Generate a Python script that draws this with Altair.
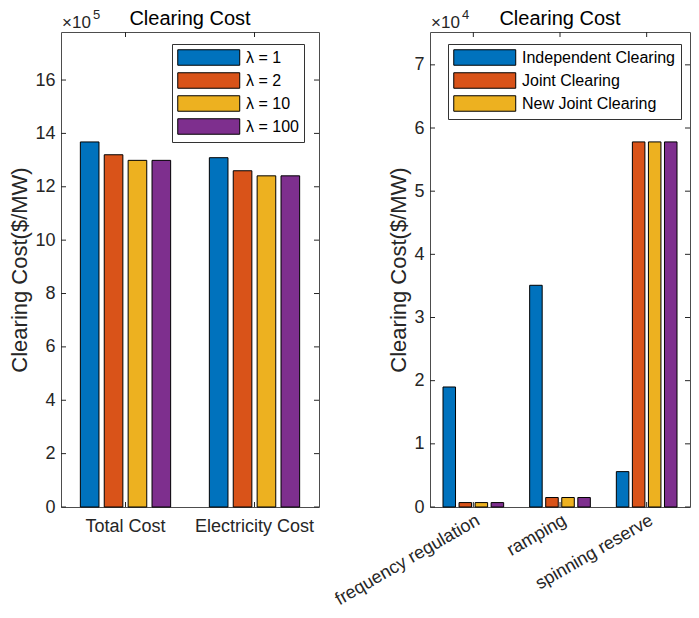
import altair as alt
import pandas as pd

FONT = "Liberation Sans"
AX = "#262626"

# ---------------- data: left panel ----------------
left_categories = ["Total Cost", "Electricity Cost"]
left_series = ["λ = 1", "λ = 2", "λ = 10", "λ = 100"]
left_lambda1 = [13.68, 13.09]
left_lambda2 = [13.20, 12.60]
left_lambda10 = [12.99, 12.41]
left_lambda100 = [12.99, 12.41]
left_yticks = [0, 2, 4, 6, 8, 10, 12, 14, 16]
left_ymax = 17.8
left_exponent = "5"

# ---------------- data: right panel ----------------
right_categories = ["frequency regulation", "ramping", "spinning reserve"]
right_series = ["Independent Clearing", "Joint Clearing", "New Joint Clearing", "Series 4"]
right_independent = [1.90, 3.51, 0.56]
right_joint = [0.07, 0.15, 5.78]
right_new_joint = [0.07, 0.15, 5.78]
right_series4 = [0.07, 0.15, 5.78]
right_yticks = [0, 1, 2, 3, 4, 5, 6, 7]
right_ymax = 7.52
right_exponent = "4"

colors = ["#0072BD", "#D95319", "#EDB120", "#7E2F8E"]
panel_title = "Clearing Cost"


def make_df(cats, series, cols):
    rows = []
    for s, vals in zip(series, cols):
        for c, v in zip(cats, vals):
            rows.append({"category": c, "series": s, "value": v})
    return pd.DataFrame(rows)


def panel(cats, series, cols, ticks, ymax, exponent, legend_values,
          W, H, legend_x, legend_y, label_angle, label_align, label_baseline,
          label_pad, label_offset, label_extra):
    df = make_df(cats, series, cols)
    yscale = alt.Scale(domain=[0, ymax], nice=False, zero=True)
    xscale = alt.Scale(domain=cats, paddingInner=0.3, paddingOuter=0.15)

    xaxis = alt.Axis(title=None, labelAngle=label_angle, labelAlign=label_align,
                     labelBaseline=label_baseline, labelOffset=label_offset,
                     ticks=False, domain=False,
                     labelFontSize=18, labelFont=FONT, labelColor=AX,
                     labelPadding=label_pad, labelLimit=400)
    yaxis = alt.Axis(values=ticks, format="d", title="Clearing Cost($/MW)", ticks=False,
                     domain=False, grid=False, labelFontSize=18, labelFont=FONT,
                     labelColor=AX, labelPadding=6, titleFontSize=22, titleFont=FONT,
                     titleFontWeight="normal", titleColor=AX, titlePadding=3)

    tdf = pd.DataFrame({"value": ticks})
    cdf = pd.DataFrame({"category": cats})

    yt_left = alt.Chart(tdf).mark_rule(color=AX, strokeWidth=1).encode(
        y=alt.Y("value:Q", scale=yscale), x=alt.value(0), x2=alt.value(5))
    yt_right = alt.Chart(tdf).mark_rule(color=AX, strokeWidth=1).encode(
        y=alt.Y("value:Q", scale=yscale), x=alt.value(W - 5), x2=alt.value(W))
    xt_top = alt.Chart(cdf).mark_rule(color=AX, strokeWidth=1).encode(
        x=alt.X("category:N", scale=xscale, sort=cats), y=alt.value(0), y2=alt.value(5))
    xt_bot = alt.Chart(cdf).mark_rule(color=AX, strokeWidth=1).encode(
        x=alt.X("category:N", scale=xscale, sort=cats), y=alt.value(H - 5), y2=alt.value(H))

    legend = alt.Legend(
        title=None, orient="none", legendX=legend_x, legendY=legend_y,
        values=legend_values, symbolType="M-1,-1H7V1H-1Z", symbolSize=240,
        symbolStrokeColor="black", symbolStrokeWidth=1, symbolOpacity=1,
        labelFontSize=16, labelFont=FONT, labelColor="black", labelOffset=52,
        padding=5, rowPadding=2, strokeColor="#333333", fillColor="white",
        labelExpr="datum.label" + label_extra, labelLimit=400)

    bars = alt.Chart(df).mark_bar(stroke="black", strokeWidth=1).encode(
        x=alt.X("category:N", scale=xscale, axis=xaxis, sort=cats),
        xOffset=alt.XOffset("series:N", sort=series,
                            scale=alt.Scale(domain=series, paddingInner=0.22, paddingOuter=0)),
        y=alt.Y("value:Q", scale=yscale, axis=yaxis),
        color=alt.Color("series:N", scale=alt.Scale(domain=series, range=colors), legend=legend),
    )

    ttl = alt.Chart(pd.DataFrame({"t": [panel_title]})).mark_text(
        align="center", baseline="alphabetic", fontSize=20, font=FONT, color="black"
    ).encode(x=alt.value(W / 2), y=alt.value(-7), text="t:N")
    e1 = alt.Chart(pd.DataFrame({"t": ["×10"]})).mark_text(
        align="left", baseline="alphabetic", fontSize=17, font=FONT, color=AX
    ).encode(x=alt.value(1), y=alt.value(-4), text="t:N")
    e2 = alt.Chart(pd.DataFrame({"t": [exponent]})).mark_text(
        align="left", baseline="alphabetic", fontSize=13, font=FONT, color=AX
    ).encode(x=alt.value(32), y=alt.value(-13), text="t:N")

    return alt.layer(yt_left, yt_right, xt_top, xt_bot, bars, ttl, e1, e2).properties(
        width=W, height=H)


left = panel(left_categories, left_series,
             [left_lambda1, left_lambda2, left_lambda10, left_lambda100],
             left_yticks, left_ymax, left_exponent, left_series,
             W=258, H=475, legend_x=111, legend_y=12, label_angle=0,
             label_align="center", label_baseline="top", label_pad=10, label_offset=0,
             label_extra=" + '\u00a0\u00a0\u00a0'")

right = panel(right_categories, right_series,
              [right_independent, right_joint, right_new_joint, right_series4],
              right_yticks, right_ymax, right_exponent, right_series[:3],
              W=260, H=475, legend_x=18, legend_y=12, label_angle=-30,
              label_align="right", label_baseline="middle", label_pad=12, label_offset=5,
              label_extra="")

chart = alt.hconcat(left, right, spacing=111, bounds="flush").resolve_scale(
    color="independent", x="independent", y="independent", xOffset="independent"
).resolve_legend(color="independent").configure_view(
    stroke="#4d4d4d", strokeWidth=1
).properties(padding=0)

chart.save("out.html", embed_options={"renderer": "svg", "actions": False})
